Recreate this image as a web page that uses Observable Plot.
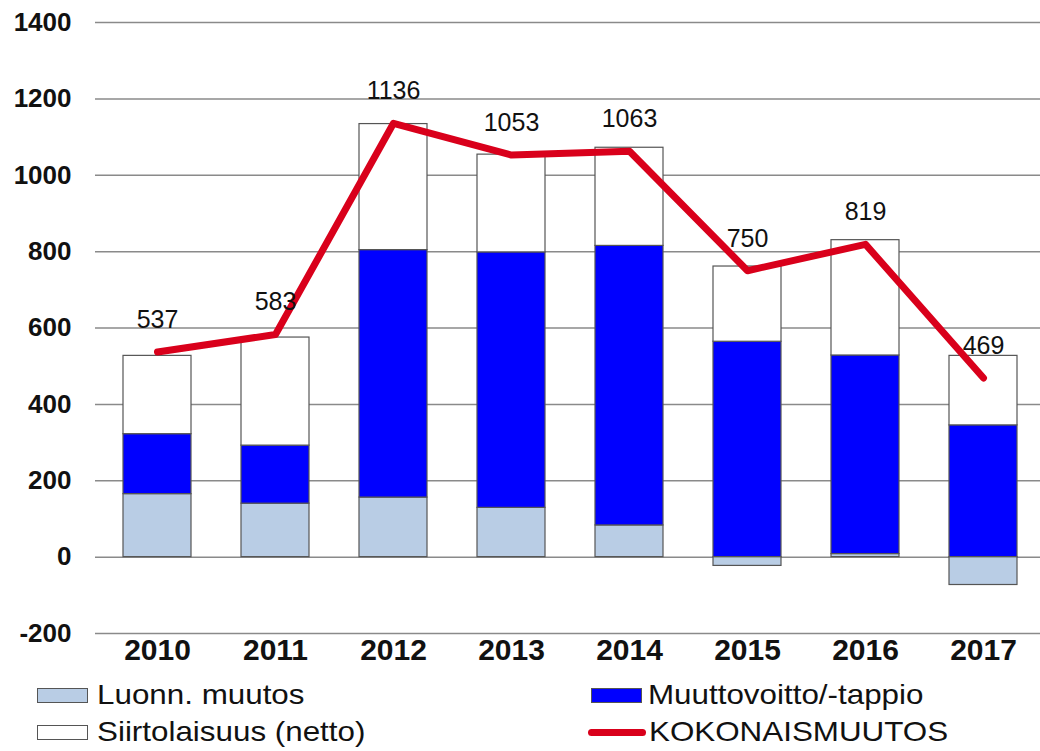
<!DOCTYPE html>
<html><head><meta charset="utf-8">
<script src="https://cdn.jsdelivr.net/npm/d3@7"></script>
<script src="https://cdn.jsdelivr.net/npm/@observablehq/plot@0.6"></script>
<style>
body{margin:0;background:#fff;font-family:"Liberation Sans",Arial,sans-serif;overflow:hidden;}
#legend{position:relative;height:78px;width:1040px;}
.item{position:absolute;display:flex;align-items:center;height:30px;}
.txt{font-size:28px;color:#111;line-height:30px;transform:scaleX(1.12);transform-origin:left center;white-space:nowrap;}
.sw{width:51px;height:15px;border:1.5px solid #555;box-sizing:border-box;}
.ln{width:58px;height:7px;border-radius:4px;background:#D9001B;}
</style></head><body><div id="chart"></div><div id="legend"></div>
<script>
const years = ["2010","2011","2012","2013","2014","2015","2016","2017"];
const luonn = [165,140,156,129,83,-23,8,-73];
const muutto = [157,152,648,669,732,564,520,345];
const siirto = [205,283,330,256,257,197,302,182];
const total = [537,583,1136,1053,1063,750,819,469];
const seriesNames = ["Luonn. muutos","Muuttovoitto/-tappio","Siirtolaisuus (netto)"];
const seriesColors = ["#B9CDE5","#0000FF","#FFFFFF"];
const lineName = "KOKONAISMUUTOS";
const lineColor = "#D9001B";
const yTicks = [-200,0,200,400,600,800,1000,1200,1400];

const rows = [];
const vals = [luonn, muutto, siirto];
years.forEach((y,i)=>{ vals.forEach((arr,k)=>rows.push({year:y, series:seriesNames[k], value:arr[i]})); });
const lineData = years.map((y,i)=>({year:y, total: total[i]}));

const chart = Plot.plot({
  width:1040, height:673, marginLeft:95, marginRight:-5, marginTop:22, marginBottom:40,
  style:{fontFamily:"Liberation Sans, Arial, sans-serif", background:"#fff", overflow:"visible", color:"#111"},
  x:{domain:years, paddingInner:0.42, paddingOuter:0.21},
  y:{domain:[-200,1400]},
  color:{domain:seriesNames, range:seriesColors},
  marks:[
    Plot.ruleY(yTicks,{stroke:"#8a8a8a", strokeWidth:1.5}),
    Plot.barY(rows, Plot.stackY({order:seriesNames}, {x:"year", y:"value", fill:"series", stroke:"#555", strokeWidth:1.2})),
    Plot.line(lineData,{x:"year", y:"total", stroke:lineColor, strokeWidth:7, strokeLinecap:"round", strokeLinejoin:"round"}),
    Plot.text(lineData,{x:"year", y:"total", text:d=>String(d.total), dy:-32, fontSize:25, fill:"#111"}),
    Plot.axisY({ticks:yTicks, tickFormat:d=>String(d), tickSize:0, tickPadding:24, fontSize:26, fontWeight:"bold", label:null}),
    Plot.axisX({tickSize:0, tickPadding:5, fontSize:30, fontWeight:"bold", label:null})
  ]
});
document.getElementById("chart").appendChild(chart);

const legend = document.getElementById("legend");
const items = [
  {name:seriesNames[0], kind:"sw", color:seriesColors[0], left:37, top:7, gap:9},
  {name:seriesNames[1], kind:"sw", color:seriesColors[1], left:591, top:7, gap:6},
  {name:seriesNames[2], kind:"sw", color:seriesColors[2], left:37, top:44, gap:9},
  {name:lineName, kind:"ln", color:lineColor, left:588, top:44, gap:3}
];
items.forEach(it=>{
  const d = document.createElement("div"); d.className="item";
  d.style.left = it.left+"px"; d.style.top = it.top+"px";
  const s = document.createElement("div"); s.className = it.kind;
  if (it.kind==="sw") s.style.background = it.color;
  s.style.marginRight = it.gap+"px";
  const t = document.createElement("span"); t.className="txt"; t.textContent = it.name;
  d.appendChild(s); d.appendChild(t); legend.appendChild(d);
});
</script></body></html>
